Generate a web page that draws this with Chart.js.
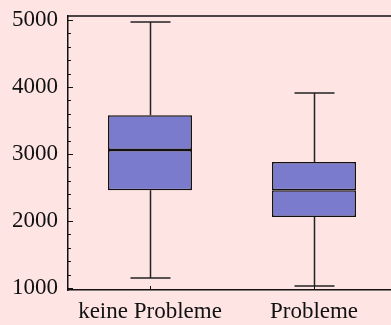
<!DOCTYPE html>
<html>
<head>
<meta charset="utf-8">
<script src="https://cdn.jsdelivr.net/npm/chart.js@4/dist/chart.umd.min.js"></script>
<style>
html,body{margin:0;padding:0;background:#ffe4e4;overflow:hidden;width:391px;height:325px;}
#wrap{position:absolute;left:0;top:0;width:400px;height:325px;}
</style>
</head>
<body>
<div id="wrap"><canvas id="c" width="400" height="325"></canvas></div>
<script>
const categories = ["keine Probleme", "Probleme"];
const minValues = [1150, 1030];
const q1Values = [2460, 2060];
const medianValues = [3060, 2460];
const q3Values = [3580, 2880];
const maxValues = [4970, 3910];
const yTickValues = [1000,1200,1400,1600,1800,2000,2200,2400,2600,2800,3000,3200,3400,3600,3800,4000,4200,4400,4600,4800,5000];
const yMajorStep = 1000;

const FONT = {family: "'Liberation Serif', 'Times New Roman', serif", size: 23};

const framePlugin = {
  id: 'frame',
  beforeDatasetsDraw(chart) {
    const ctx = chart.ctx, x = chart.scales.x, y = chart.scales.y;
    const cw = x.getPixelForValue(1) - x.getPixelForValue(0);
    const cap = cw * 0.244;
    ctx.save();
    ctx.strokeStyle = '#222';
    ctx.lineWidth = 1.5;
    for (let i = 0; i < categories.length; i++) {
      const cx = Math.round(x.getPixelForValue(i)) + 0.5;
      const yMax = y.getPixelForValue(maxValues[i]);
      const yMin = y.getPixelForValue(minValues[i]);
      const yQ3 = y.getPixelForValue(q3Values[i]);
      const yQ1 = y.getPixelForValue(q1Values[i]);
      ctx.beginPath();
      ctx.moveTo(cx, yMax); ctx.lineTo(cx, yQ3);
      ctx.moveTo(cx, yQ1); ctx.lineTo(cx, yMin);
      ctx.moveTo(cx - cap/2, yMax); ctx.lineTo(cx + cap/2, yMax);
      ctx.moveTo(cx - cap/2, yMin); ctx.lineTo(cx + cap/2, yMin);
      ctx.stroke();
    }
    ctx.restore();
  },
  afterDraw(chart) {
    const ctx = chart.ctx, a = chart.chartArea, x = chart.scales.x, y = chart.scales.y;
    ctx.save();
    ctx.strokeStyle = '#111';
    ctx.lineWidth = 1.5;
    ctx.beginPath();
    ctx.moveTo(a.left, a.top); ctx.lineTo(a.right, a.top);
    ctx.stroke();
    ctx.lineWidth = 1;
    ctx.beginPath();
    y.ticks.forEach(t => {
      const py = Math.round(y.getPixelForValue(t.value)) + 0.5;
      const len = (t.value % yMajorStep === 0) ? 5 : 3;
      ctx.moveTo(a.left, py); ctx.lineTo(a.left + len, py);
    });
    for (let i = 0; i < categories.length; i++) {
      const px = Math.round(x.getPixelForValue(i)) + 0.5;
      ctx.moveTo(px, a.bottom); ctx.lineTo(px, a.bottom - 4);
    }
    ctx.stroke();
    ctx.restore();
  }
};

const boxStyle = {
  backgroundColor: '#7b7bcd',
  borderColor: '#111',
  borderWidth: 1.5,
  borderSkipped: false,
  grouped: false,
  barPercentage: 0.512,
  categoryPercentage: 1
};

new Chart(document.getElementById('c'), {
  type: 'bar',
  data: {
    labels: categories,
    datasets: [
      Object.assign({label: 'lower', data: categories.map((c, i) => [q1Values[i], medianValues[i]])}, boxStyle),
      Object.assign({label: 'upper', data: categories.map((c, i) => [medianValues[i], q3Values[i]])}, boxStyle)
    ]
  },
  options: {
    responsive: false,
    animation: false,
    layout: {padding: {top: 16, right: 4, left: 0, bottom: 0}},
    plugins: {legend: {display: false}, tooltip: {enabled: false}},
    scales: {
      x: {
        type: 'category',
        offset: true,
        grid: {display: false, drawTicks: false},
        border: {display: true, color: '#111', width: 1.5},
        ticks: {color: '#111', font: FONT, padding: 8, maxRotation: 0, autoSkip: false},
        afterFit(s) { s.height = 35; s.paddingLeft = 0; s.paddingRight = 0; }
      },
      y: {
        type: 'linear',
        min: 970,
        max: 5060,
        grid: {display: false, drawTicks: false},
        border: {display: true, color: '#111', width: 1.5},
        afterBuildTicks(s) { s.ticks = yTickValues.map(v => ({value: v})); },
        ticks: {
          color: '#111', font: FONT, padding: 10, autoSkip: false,
          callback: (v) => (v % yMajorStep === 0 ? String(v) : '')
        },
        afterFit(s) { s.width = 68; s.paddingTop = 0; s.paddingBottom = 0; }
      }
    }
  },
  plugins: [framePlugin]
});
</script>
</body>
</html>
